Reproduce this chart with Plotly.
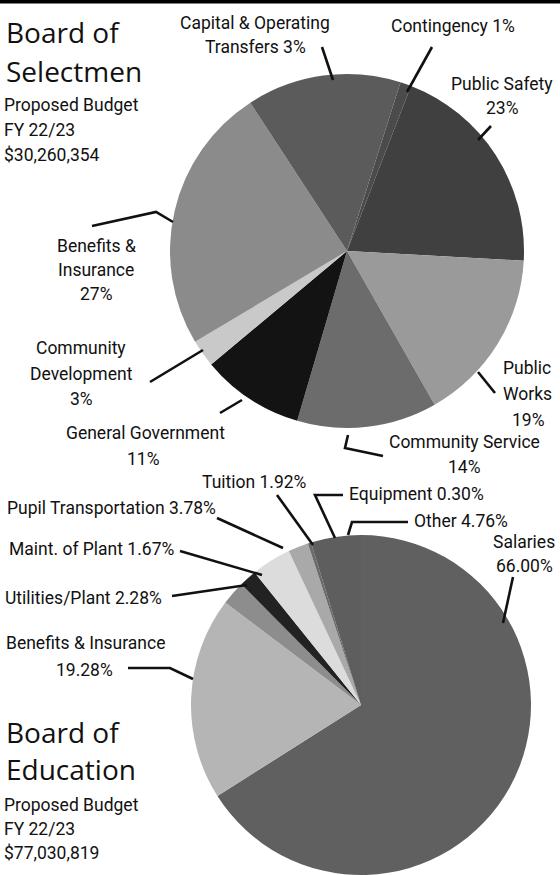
import plotly.graph_objects as go

W, H = 560, 875

# ---------------- data: Board of Selectmen ----------------
bos_categories = ["Contingency", "Public Safety", "Public Works", "Community Service",
                  "General Government", "Community Development", "Benefits & Insurance",
                  "Capital & Operating Transfers"]
# slice shares as drawn in the picture (percent of circle)
bos_shares = [1.0, 20.0, 15.9, 12.8, 9.4, 2.5, 24.4, 14.1]
# percentages printed on the labels
bos_label_pct = ["1%", "23%", "19%", "14%", "11%", "3%", "27%", "3%"]
bos_colors = ["#4b4b4b", "#404040", "#9a9a9a", "#6c6c6c", "#131313", "#c9c9c9", "#8b8b8b", "#5b5b5b"]

# ---------------- data: Board of Education ----------------
boe_categories = ["Salaries", "Benefits & Insurance", "Utilities/Plant", "Maint. of Plant",
                  "Pupil Transportation", "Tuition", "Equipment", "Other"]
boe_values = [66.00, 19.28, 2.28, 1.67, 3.78, 1.92, 0.30, 4.76]
boe_colors = ["#606060", "#b5b5b5", "#8d8d8d", "#222222", "#dcdcdc", "#a9a9a9", "#6a6a6a", "#5e5e5e"]


def px(x):
    return x / W


def py(y):
    return 1 - y / H


fig = go.Figure()

# top pie: centre (347,251) r 177
cx, cy, r = 347, 251, 177
fig.add_trace(go.Pie(
    labels=bos_categories, values=bos_shares, sort=False, direction="clockwise",
    rotation=17.6, textinfo="none", hoverinfo="skip", showlegend=False,
    marker=dict(colors=bos_colors, line=dict(width=0)),
    domain=dict(x=[px(cx - r), px(cx + r)], y=[py(cy + r), py(cy - r)]),
))

# bottom pie: centre (361,705) r 170
cx2, cy2, r2 = 361, 705, 170
fig.add_trace(go.Pie(
    labels=boe_categories, values=boe_values, sort=False, direction="clockwise",
    rotation=0, textinfo="none", hoverinfo="skip", showlegend=False,
    marker=dict(colors=boe_colors, line=dict(width=0)),
    domain=dict(x=[px(cx2 - r2), px(cx2 + r2)], y=[max(0, py(cy2 + r2)), py(cy2 - r2)]),
))

LBL_FONT = "Roboto, Liberation Sans, Arial, sans-serif"
TITLE_FONT = "Open Sans, Noto Sans, sans-serif"
LS = 17.5

annotations = []


def text(s, x, y, size=LS, family=LBL_FONT, anchor="center"):
    annotations.append(dict(
        text=s, x=px(x), y=py(y), xref="paper", yref="paper",
        xanchor=anchor, yanchor="middle", showarrow=False,
        font=dict(family=family, size=size, color="#111111"),
    ))


# ----- top pie labels -----
text("Capital & Operating", 255, 23)
text("Transfers " + bos_label_pct[7], 255, 47)
text("Contingency " + bos_label_pct[0], 453, 26)
text("Public Safety", 502, 84)
text(bos_label_pct[1], 502, 108)
text("Benefits &", 96, 246)
text("Insurance", 96, 270)
text(bos_label_pct[6], 96, 294)
text("Community", 81, 348)
text("Development", 81, 374)
text(bos_label_pct[5], 81, 399)
text("Public", 527, 368)
text("Works", 527, 394)
text(bos_label_pct[2], 528, 420)
text("General Government", 145, 433)
text(bos_label_pct[4], 143, 459)
text("Community Service", 464, 442)
text(bos_label_pct[3], 464, 467)

# ----- bottom pie labels -----
text("Tuition %.2f%%" % boe_values[5], 200, 482, anchor="left")
text("Pupil Transportation %.2f%%" % boe_values[4], 5, 508, anchor="left")
text("Maint. of Plant %.2f%%" % boe_values[3], 7, 549, anchor="left")
text("Utilities/Plant %.2f%%" % boe_values[2], 3, 598, anchor="left")
text("Benefits & Insurance", 85, 643)
text("%.2f%%" % boe_values[1], 84, 670)
text("Equipment %.2f%%" % boe_values[6], 347, 494, anchor="left")
text("Other %.2f%%" % boe_values[7], 412, 521, anchor="left")
text("Salaries", 524, 542)
text("%.2f%%" % boe_values[0], 524, 566)

# ----- titles -----
text("Board of", 4, 32, size=28, family=TITLE_FONT, anchor="left")
text("Selectmen", 4, 71, size=28, family=TITLE_FONT, anchor="left")
text("Proposed Budget", 2, 105, anchor="left")
text("FY 22/23", 2, 130, anchor="left")
text("$30,260,354", 2, 155, anchor="left")

text("Board of", 4, 732, size=28, family=TITLE_FONT, anchor="left")
text("Education", 4, 769, size=28, family=TITLE_FONT, anchor="left")
text("Proposed Budget", 2, 805, anchor="left")
text("FY 22/23", 2, 829, anchor="left")
text("$77,030,819", 2, 853, anchor="left")

# ----- leader lines (pixel polylines) -----
leaders = [
    [(322, 47), (333, 80)],
    [(432, 47), (407, 92)],
    [(491, 126), (478, 140)],
    [(92, 226), (156, 212), (173, 222)],
    [(150, 382), (203, 350)],
    [(220, 413), (242, 400)],
    [(478, 372), (495, 393)],
    [(348, 435), (345, 448), (383, 456)],
    [(277, 495), (313, 545)],
    [(343, 495), (315, 495), (335, 538)],
    [(408, 522), (352, 522), (348, 535)],
    [(513, 577), (503, 623)],
    [(217, 518), (283, 548)],
    [(180, 551), (262, 575)],
    [(172, 596), (247, 585)],
    [(128, 668), (170, 668), (193, 679)],
]
shapes = []
for pts in leaders:
    d = "M " + " L ".join("%.5f,%.5f" % (px(x), py(y)) for x, y in pts)
    shapes.append(dict(type="path", path=d, xref="paper", yref="paper",
                       line=dict(color="#111111", width=2.6)))

# black band at top
shapes.append(dict(type="rect", xref="paper", yref="paper", x0=0, x1=1, y0=py(3.5), y1=1,
                   fillcolor="#000000", line=dict(width=0)))

fig.update_layout(
    width=W, height=H, margin=dict(l=0, r=0, t=0, b=0),
    paper_bgcolor="white", plot_bgcolor="white",
    annotations=annotations, shapes=shapes, showlegend=False,
)

fig.write_html("out.html", config={"displayModeBar": False},
               post_script="document.body.style.margin='0';document.body.style.overflow='hidden';")
